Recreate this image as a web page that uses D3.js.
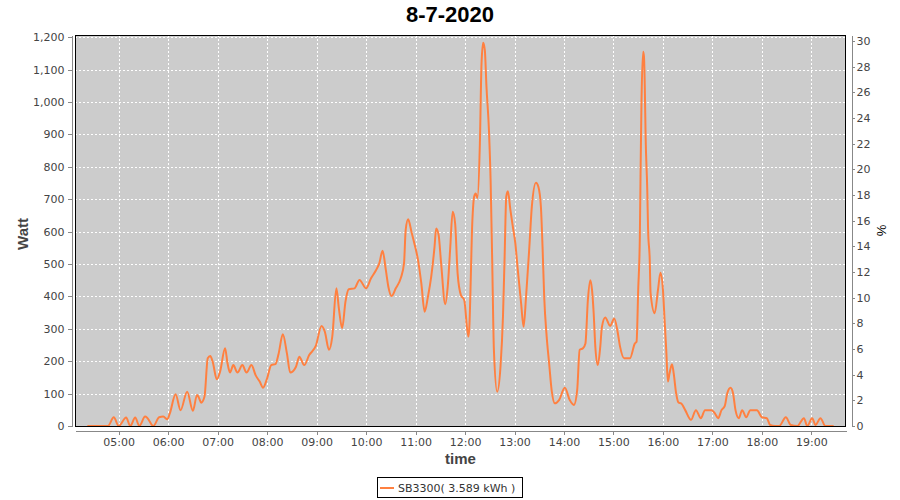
<!DOCTYPE html>
<html>
<head>
<meta charset="utf-8">
<script src="https://cdn.jsdelivr.net/npm/d3@7"></script>
<style>
  body { margin: 0; background: #fff; }
  text { font-family: "DejaVu Sans", sans-serif; }
</style>
</head>
<body>
<svg id="svg" width="900" height="500"></svg>
<script>
const TITLE = '8-7-2020'
const SERIES_NAME = 'SB3300( 3.589 kWh )'

// readings (time of day, watt)
const TIMES = [
  '04:22', '04:47', '04:54', '05:00', '05:09', '05:14', '05:20', '05:25', '05:32', '05:35',
  '05:42', '05:49', '05:54', '05:59', '06:02', '06:09', '06:15', '06:23', '06:30', '06:35',
  '06:37', '06:40', '06:44', '06:48', '06:51', '06:54', '06:59', '07:03', '07:09', '07:12',
  '07:15', '07:19', '07:24', '07:30', '07:35', '07:41', '07:46', '07:51', '07:55', '08:00',
  '08:05', '08:10', '08:14', '08:19', '08:24', '08:28', '08:35', '08:39', '08:45', '08:51',
  '08:59', '09:06', '09:10', '09:15', '09:19', '09:24', '09:27', '09:31', '09:35', '09:39',
  '09:46', '09:52', '10:00', '10:06', '10:12', '10:16', '10:20', '10:24', '10:27', '10:31',
  '10:36', '10:42', '10:46', '10:48', '10:51', '10:55', '10:59', '11:03', '11:07', '11:11',
  '11:15', '11:19', '11:23', '11:25', '11:28', '11:31', '11:36', '11:39', '11:42', '11:45',
  '11:48', '11:51', '11:55', '11:59', '12:04', '12:05', '12:09', '12:11', '12:13', '12:15',
  '12:18', '12:20', '12:22', '12:24', '12:26', '12:29', '12:31', '12:33', '12:35', '12:39',
  '12:43', '12:46', '12:48', '12:50', '12:52', '12:55', '12:58', '13:01', '13:04', '13:08',
  '13:11', '13:14', '13:18', '13:21', '13:26', '13:29', '13:32', '13:34', '13:36', '13:39',
  '13:42', '13:45', '13:49', '13:54', '14:01', '14:07', '14:12', '14:16', '14:19', '14:23',
  '14:26', '14:29', '14:32', '14:34', '14:36', '14:38', '14:41', '14:44', '14:46', '14:50',
  '14:56', '15:01', '15:05', '15:08', '15:13', '15:20', '15:26', '15:28', '15:30', '15:32',
  '15:33', '15:34', '15:36', '15:37', '15:38', '15:39', '15:41', '15:42', '15:44', '15:45',
  '15:50', '15:54', '15:57', '16:00', '16:02', '16:04', '16:06', '16:08', '16:11', '16:13',
  '16:16', '16:19', '16:22', '16:27', '16:34', '16:40', '16:46', '16:51', '16:59', '17:03',
  '17:07', '17:11', '17:15', '17:18', '17:22', '17:25', '17:28', '17:32', '17:36', '17:41',
  '17:46', '17:54', '18:00', '18:06', '18:10', '18:16', '18:21', '18:29', '18:35', '18:43',
  '18:51', '18:55', '19:01', '19:05', '19:11', '19:17', '19:27'
]
const WATTS = [
  0, 0, 27, 0, 26, 0, 26, 0, 29, 24,
  0, 27, 29, 21, 39, 98, 49, 106, 47, 96,
  89, 72, 90, 209, 216, 198, 144, 168, 240, 193,
  165, 188, 165, 188, 165, 188, 157, 137, 118, 147,
  188, 191, 224, 283, 224, 165, 183, 214, 188, 219,
  247, 309, 291, 235, 276, 425, 363, 302, 384, 422,
  425, 451, 425, 456, 481, 502, 541, 481, 430, 401,
  425, 456, 502, 605, 638, 600, 559, 512, 440, 353,
  399, 461, 553, 610, 589, 502, 376, 430, 548, 661,
  625, 471, 404, 389, 276, 296, 640, 708, 718, 703,
  872, 1119, 1183, 1160, 1047, 913, 759, 502, 235, 106,
  183, 337, 522, 708, 725, 667, 615, 564, 481, 379,
  306, 399, 553, 677, 751, 738, 677, 553, 399, 276,
  193, 111, 70, 80, 118, 80, 65, 111, 235, 240,
  255, 390, 450, 420, 348, 245, 188, 245, 306, 335,
  309, 332, 291, 245, 209, 209, 255, 260, 420, 584,
  811, 1001, 1155, 1140, 1047, 893, 728, 605, 512, 410,
  348, 420, 473, 420, 327, 235, 137, 163, 191, 163,
  101, 72, 70, 49, 19, 49, 24, 49, 49, 39,
  24, 49, 62, 101, 118, 101, 49, 24, 49, 27,
  49, 49, 27, 24, 3, 0, 0, 27, 3, 0,
  24, 0, 24, 3, 24, 0, 0
]

const HOUR_TICKS = ['05:00', '06:00', '07:00', '08:00', '09:00', '10:00', '11:00', '12:00',
  '13:00', '14:00', '15:00', '16:00', '17:00', '18:00', '19:00']
const WATT_TICKS = [0, 100, 200, 300, 400, 500, 600, 700, 800, 900, 1000, 1100, 1200]
const PCT_TICKS = [0, 2, 4, 6, 8, 10, 12, 14, 16, 18, 20, 22, 24, 26, 28, 30]

const LEFT = 75
const RIGHT = 846
const TOP = 35
const BOTTOM = 426
const LINE_COLOR = '#ff8040'
const AXIS_COLOR = '#888'
const TEXT_COLOR = '#444'

const parse = d3.timeParse('%H:%M')
const data = TIMES.map((t, i) => ({ t: parse(t), w: WATTS[i] }))

const x = d3.scaleTime()
  .domain([parse('04:07'), parse('19:42')])
  .range([LEFT, RIGHT])
const y = d3.scaleLinear()
  .domain([0, 1207])
  .range([BOTTOM, TOP])
const yPct = d3.scaleLinear()
  .domain([0, 30.47])
  .range([BOTTOM, TOP])

const SVG = d3.select('#svg')

// plot background
SVG.append('rect')
  .attr('x', LEFT)
  .attr('y', TOP)
  .attr('width', RIGHT - LEFT)
  .attr('height', BOTTOM - TOP)
  .attr('fill', '#cccccc')

// grid
const GRID = SVG.append('g')
  .attr('stroke', '#fff')
  .attr('stroke-dasharray', '2,2')
  .attr('shape-rendering', 'crispEdges')
GRID.selectAll('.vg')
  .data(HOUR_TICKS.map(parse))
  .enter()
  .append('line')
  .attr('x1', d => Math.round(x(d)) + 0.5)
  .attr('x2', d => Math.round(x(d)) + 0.5)
  .attr('y1', TOP)
  .attr('y2', BOTTOM)
GRID.selectAll('.hg')
  .data(WATT_TICKS)
  .enter()
  .append('line')
  .attr('x1', LEFT)
  .attr('x2', RIGHT)
  .attr('y1', d => Math.round(y(d)) + 0.5)
  .attr('y2', d => Math.round(y(d)) + 0.5)

SVG.append('defs')
  .append('clipPath')
  .attr('id', 'plot-clip')
  .append('rect')
  .attr('x', LEFT)
  .attr('y', TOP)
  .attr('width', RIGHT - LEFT)
  .attr('height', BOTTOM - TOP)

const LINE_GEN = d3.line()
  .x(d => x(d.t))
  .y(d => y(d.w))
  .curve(d3.curveMonotoneX)

SVG.append('path')
  .datum(data)
  .attr('clip-path', 'url(#plot-clip)')
  .attr('d', LINE_GEN)
  .attr('fill', 'none')
  .attr('stroke', LINE_COLOR)
  .attr('stroke-width', 2)
  .attr('stroke-linejoin', 'round')

// plot outline
SVG.append('rect')
  .attr('x', LEFT + 0.5)
  .attr('y', TOP + 0.5)
  .attr('width', RIGHT - LEFT - 1)
  .attr('height', BOTTOM - TOP)
  .attr('fill', 'none')
  .attr('stroke', '#000')
  .attr('shape-rendering', 'crispEdges')

function styleAxis(g) {
  g.select('.domain').attr('stroke', AXIS_COLOR)
  g.selectAll('.tick line').attr('stroke', AXIS_COLOR)
  g.selectAll('.tick text')
    .attr('fill', TEXT_COLOR)
    .style('font-size', '11px')
    .style('font-family', '"DejaVu Sans", sans-serif')
  g.attr('shape-rendering', 'crispEdges')
}

SVG.append('g')
  .attr('transform', 'translate(71.5,0)')
  .call(d3.axisLeft(y).tickValues(WATT_TICKS).tickFormat(d3.format(',')).tickSize(4).tickSizeOuter(0).tickPadding(3))
  .call(styleAxis)

SVG.append('g')
  .attr('transform', 'translate(851.5,0)')
  .call(d3.axisRight(yPct).tickValues(PCT_TICKS).tickSize(3).tickSizeOuter(0).tickPadding(2))
  .call(styleAxis)

SVG.append('g')
  .attr('transform', 'translate(0,430.5)')
  .call(d3.axisBottom(x).tickValues(HOUR_TICKS.map(parse)).tickFormat(d3.timeFormat('%H:%M')).tickSize(4).tickSizeOuter(0).tickPadding(4))
  .call(styleAxis)

// titles
SVG.append('text')
  .text(TITLE)
  .attr('x', 450)
  .attr('y', 22)
  .attr('text-anchor', 'middle')
  .style('font-family', '"Liberation Sans", sans-serif')
  .style('font-weight', 'bold')
  .style('font-size', '22px')
  .attr('fill', '#000')

SVG.append('text')
  .text('time')
  .attr('x', 460.5)
  .attr('y', 464)
  .attr('text-anchor', 'middle')
  .style('font-family', '"Liberation Sans", sans-serif')
  .style('font-weight', 'bold')
  .style('font-size', '15px')
  .attr('fill', TEXT_COLOR)

SVG.append('text')
  .text('Watt')
  .attr('transform', 'translate(28,234) rotate(-90)')
  .attr('text-anchor', 'middle')
  .style('font-family', '"Liberation Sans", sans-serif')
  .style('font-weight', 'bold')
  .style('font-size', '15px')
  .attr('fill', TEXT_COLOR)

SVG.append('text')
  .text('%')
  .attr('transform', 'translate(886,230.5) rotate(-90)')
  .attr('text-anchor', 'middle')
  .style('font-family', '"Liberation Sans", sans-serif')
  .style('font-size', '13px')
  .attr('fill', '#000')

// legend
const LEGEND = SVG.append('g')
LEGEND.append('rect')
  .attr('x', 377.5)
  .attr('y', 477.5)
  .attr('width', 145)
  .attr('height', 20)
  .attr('fill', '#fff')
  .attr('stroke', '#000')
  .attr('shape-rendering', 'crispEdges')
LEGEND.append('line')
  .attr('x1', 380)
  .attr('x2', 394)
  .attr('y1', 488)
  .attr('y2', 488)
  .attr('stroke', LINE_COLOR)
  .attr('stroke-width', 2)
LEGEND.append('text')
  .text(SERIES_NAME)
  .attr('x', 398)
  .attr('y', 492)
  .style('font-size', '11px')
  .attr('fill', '#333')
</script>
</body>
</html>
